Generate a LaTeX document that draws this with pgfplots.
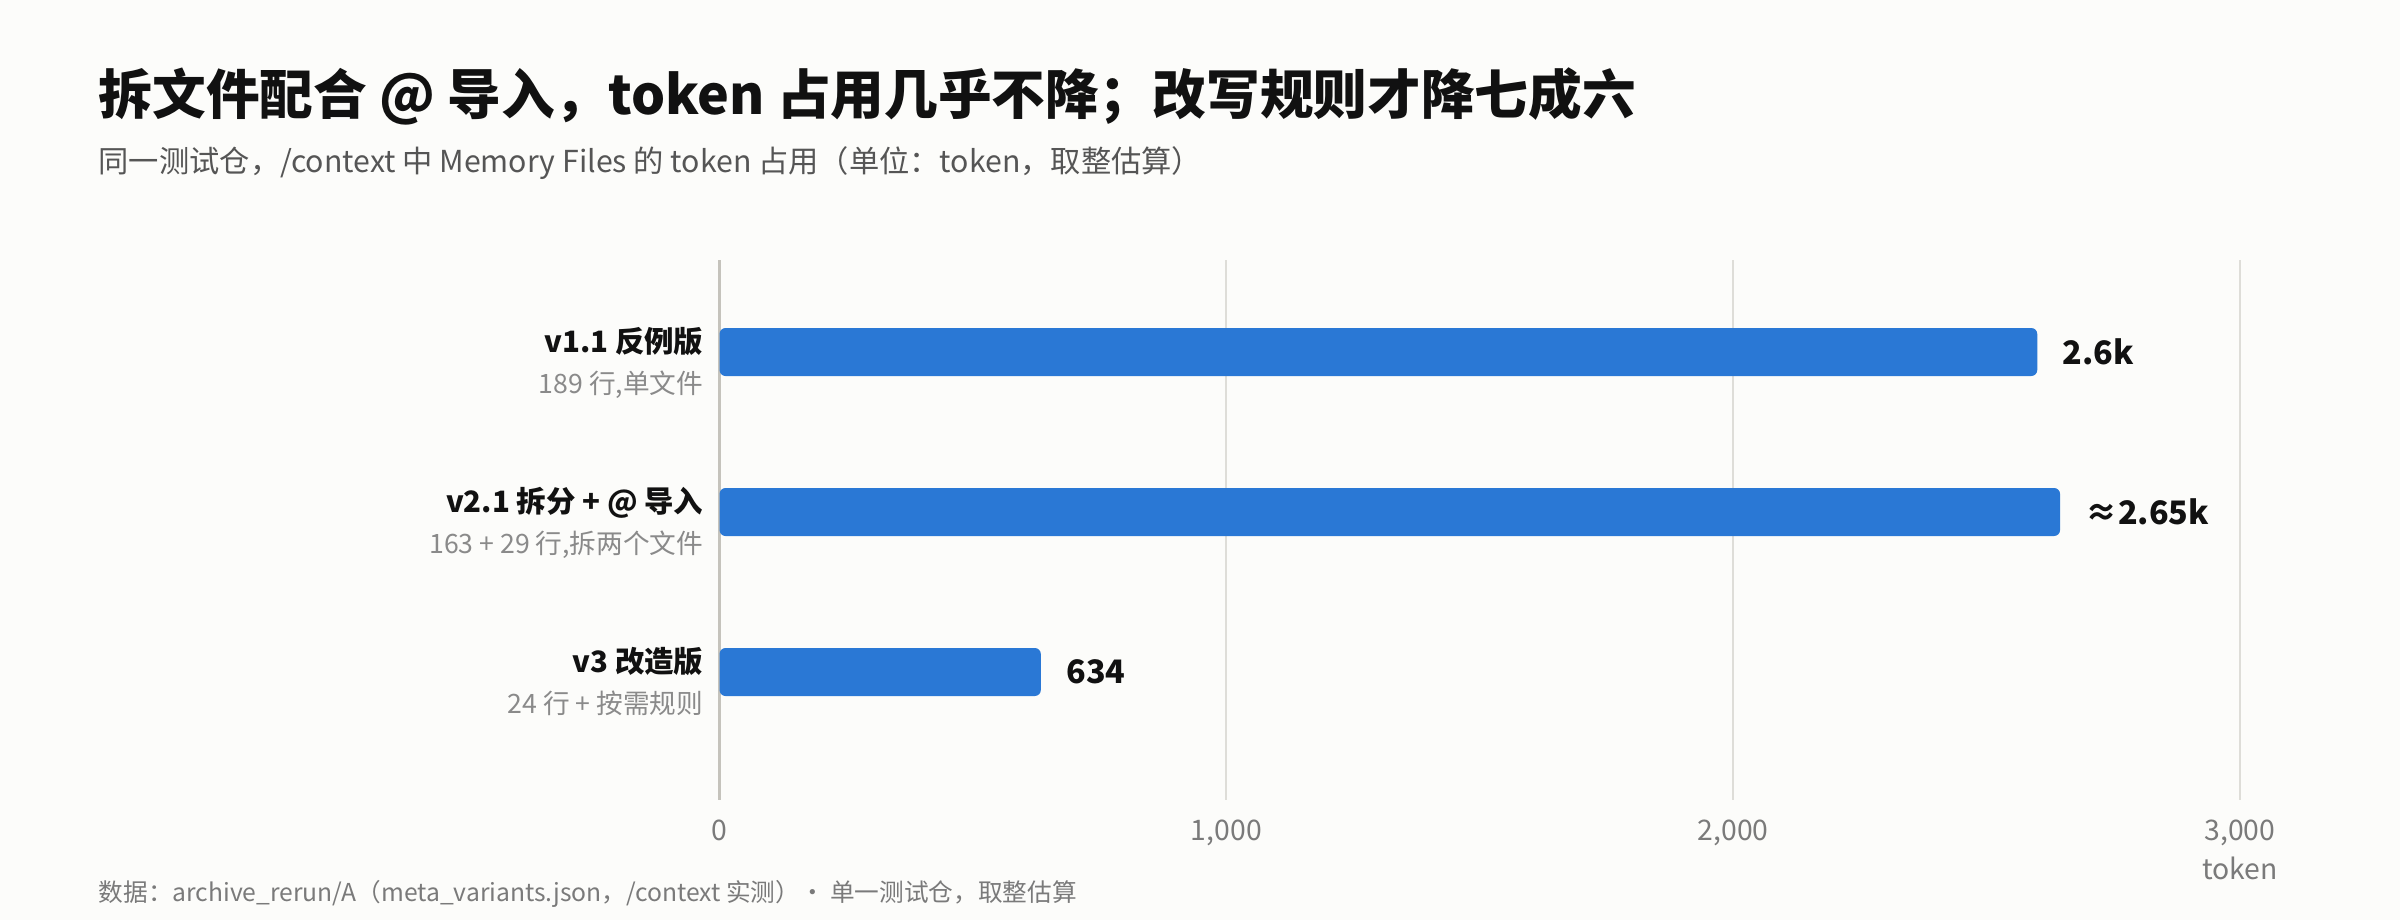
\documentclass[border=0pt]{standalone}
\usepackage{fontspec}
\setmainfont{Noto Sans CJK SC}
\usepackage{pgfplots}
\pgfplotsset{compat=1.18}
\definecolor{bg}{HTML}{FCFCFA}
\definecolor{barblue}{HTML}{2A78D5}
\definecolor{gridc}{HTML}{DEDDD8}
\definecolor{zeroc}{HTML}{C5C3BC}
\definecolor{ticktxt}{HTML}{7A7A7A}
\definecolor{subtxt}{HTML}{555555}
\definecolor{labsub}{HTML}{8A8A8A}
\definecolor{ink}{HTML}{111111}

\begin{document}
\begin{tikzpicture}
\fill[bg] (0,0) rectangle (720pt,276pt);
\node[anchor=base west, inner sep=0pt, font=\fontsize{16.1}{20}\selectfont\bfseries, text=ink] at (29.4pt,241.5pt) {拆文件配合 @ 导入，token 占用几乎不降；改写规则才降七成六};
\node[anchor=base west, inner sep=0pt, font=\fontsize{9.08}{11}\selectfont, text=subtxt] at (29.4pt,224.1pt) {同一测试仓，/context 中 Memory Files 的 token 占用（单位：token，取整估算）};
\node[anchor=base west, inner sep=0pt, font=\fontsize{7.4}{9}\selectfont, text=ticktxt] at (29.4pt,5.6pt) {数据：archive\_rerun/A（meta\_variants.json，/context 实测）· 单一测试仓，取整估算};
\begin{axis}[
  at={(215.85pt,36pt)}, anchor=south west,
  width=456.15pt, height=162pt, scale only axis,
  xmin=0, xmax=3000, ymin=-0.575, ymax=2.8, y dir=reverse,
  axis line style={draw=none},
  xmajorgrids, grid style={gridc, line width=0.6pt},
  major tick length=0pt, ytick=\empty,
  xtick={0,1000,2000,3000},
  xticklabel style={font=\fontsize{8.5}{10}\selectfont, text=ticktxt, anchor=base, yshift=-12pt},
  /pgf/number format/assume math mode=true,
  /pgf/number format/1000 sep={,},
  clip=false,
]
\draw[zeroc, line width=0.9pt] (axis cs:0,-0.575) -- (axis cs:0,2.8);
\addplot[xbar, bar width=14.4pt, fill=barblue, draw=none, rounded corners=1.8pt,
  nodes near coords, point meta=explicit symbolic,
  nodes near coords style={anchor=west, xshift=7.5pt, inner sep=0pt, font=\fontsize{9.7}{12}\selectfont\bfseries, text=ink}]
  table[meta=label] {
  x y label
  2600 0 2.6k
  2645 1 ≈2.65k
  634 2 634
  };
\node[anchor=base east, inner sep=0pt, font=\fontsize{8.83}{11}\selectfont\bfseries, text=ink] at ([xshift=-4.65pt]axis cs:0,0) {v1.1 反例版};
\node[anchor=base east, inner sep=0pt, font=\fontsize{8.0}{10}\selectfont, text=labsub] at ([xshift=-4.65pt,yshift=-12.3pt]axis cs:0,0) {189 行,单文件};
\node[anchor=base east, inner sep=0pt, font=\fontsize{8.83}{11}\selectfont\bfseries, text=ink] at ([xshift=-4.65pt]axis cs:0,1) {v2.1 拆分 + @ 导入};
\node[anchor=base east, inner sep=0pt, font=\fontsize{8.0}{10}\selectfont, text=labsub] at ([xshift=-4.65pt,yshift=-12.3pt]axis cs:0,1) {163 + 29 行,拆两个文件};
\node[anchor=base east, inner sep=0pt, font=\fontsize{8.83}{11}\selectfont\bfseries, text=ink] at ([xshift=-4.65pt]axis cs:0,2) {v3 改造版};
\node[anchor=base east, inner sep=0pt, font=\fontsize{8.0}{10}\selectfont, text=labsub] at ([xshift=-4.65pt,yshift=-12.3pt]axis cs:0,2) {24 行 + 按需规则};
\node[anchor=base, inner sep=0pt, font=\fontsize{8.5}{10}\selectfont, text=ticktxt] at ([yshift=-23.7pt]axis cs:3000,2.8) {token};
\end{axis}
\end{tikzpicture}
\end{document}
